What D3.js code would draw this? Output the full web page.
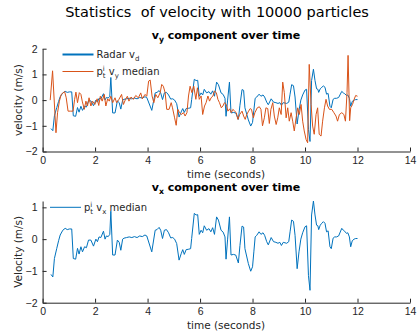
<!DOCTYPE html>
<html>
<head>
<meta charset="utf-8">
<script src="https://cdn.jsdelivr.net/npm/d3@7"></script>
<style>
  body { margin: 0; background: #fff; }
  svg { display: block; font-family: "DejaVu Sans", sans-serif; }
  .axis path, .axis line { stroke: #262626; }
  .axis text { fill: #262626; font-size: 10.5px; }
</style>
</head>
<body>
<div id="container"></div>
<script>
// radar velocity (also shown as the v_x median in the lower panel)
var radarT = [0.32,0.39,0.45,0.54,0.61,0.67,0.77,0.86,0.94,1.02,1.11,1.17,1.26,1.33,1.39,1.46,1.52,1.6,1.67,1.75,
  1.84,1.94,2.03,2.09,2.15,2.22,2.32,2.38,2.43,2.5,2.56,2.6,2.67,2.76,2.85,2.92,2.98,3.05,3.1,3.2,
  3.3,3.4,3.5,3.6,3.7,3.8,3.9,3.97,4.16,4.29,4.36,4.44,4.5,4.57,4.64,4.72,4.8,4.88,4.96,5.03,
  5.11,5.2,5.28,5.34,5.4,5.47,5.55,5.64,5.68,5.78,5.85,5.91,5.97,6.04,6.1,6.16,6.25,6.34,6.41,6.48,
  6.55,6.63,6.7,6.8,6.88,6.95,6.99,7.05,7.12,7.18,7.27,7.36,7.46,7.52,7.6,7.66,7.71,7.84,7.93,8.0,
  8.05,8.1,8.16,8.25,8.32,8.4,8.46,8.54,8.6,8.71,8.8,8.89,8.97,9.04,9.1,9.17,9.3,9.38,9.43,9.49,
  9.56,9.62,9.7,9.77,9.84,9.91,10.0,10.06,10.13,10.19,10.25,10.32,10.38,10.44,10.49,10.52,10.58,10.64,10.7,10.76,
  10.82,10.88,10.95,11.0,11.07,11.13,11.2,11.28,11.4,11.46,11.51,11.58,11.63,11.69,11.74,11.8,11.87,11.93,12.0];
var radarV = [-1.11,-1.19,-0.61,-0.29,-0.05,0.13,0.28,0.34,0.3,0.32,0.32,-0.61,-0.63,-0.29,-0.47,-0.24,-0.4,-0.24,-0.27,-0.03,
  -0.03,-0.22,0.0,-0.08,0.07,0.05,0.25,0.0,0.1,0.08,0.15,0.88,-0.5,-0.5,-0.03,-0.1,-0.35,0.0,0.03,0.05,
  0.07,0.05,0.08,0.05,0.1,0.08,0.13,0.1,-0.4,0.28,0.3,0.37,0.28,0.02,0.28,0.3,0.2,0.04,0.05,0.0,
  -0.14,-0.66,-0.46,-0.33,-0.48,-0.33,-0.32,-0.3,0.02,0.81,0.76,0.77,0.15,0.28,0.2,0.42,0.28,0.33,0.23,0.36,
  0.15,0.7,0.6,0.28,0.22,0.07,-0.63,0.0,0.7,-0.5,-0.48,-0.5,-0.75,-0.2,0.41,0.38,-0.3,-0.77,-1.01,-0.87,
  -0.4,0.07,0.12,0.23,0.15,0.2,0.12,-0.08,-0.18,0.05,-0.08,-0.1,-0.13,-0.1,-0.2,-0.1,-0.13,-0.08,0.23,0.6,
  0.56,0.12,-0.93,-0.4,0.0,0.2,0.39,0.42,-1.14,-1.61,0.76,1.2,0.76,0.44,0.42,0.3,0.44,0.5,0.55,0.5,
  0.23,0.26,-0.24,-0.3,0.03,0.07,0.07,0.1,0.34,0.28,0.25,0.18,0.2,0.07,-0.24,-0.05,0.0,0.02,0.02];

// particle median v_y
var medT = [0.29,0.38,0.51,0.57,0.64,0.71,0.78,0.84,0.9,0.97,1.06,1.16,1.22,1.27,1.33,1.4,1.46,1.51,1.59,1.65,
  1.71,1.77,1.84,1.9,1.99,2.08,2.14,2.2,2.27,2.35,2.41,2.48,2.54,2.6,2.67,2.76,2.82,2.91,3.01,3.08,
  3.16,3.23,3.29,3.37,3.46,3.55,3.65,3.74,3.8,3.9,3.97,4.04,4.1,4.17,4.24,4.31,4.39,4.48,4.54,4.6,
  4.67,4.73,4.82,4.9,4.95,5.03,5.09,5.15,5.22,5.28,5.37,5.43,5.5,5.56,5.62,5.69,5.76,5.84,5.9,5.97,
  6.04,6.1,6.17,6.23,6.3,6.36,6.42,6.49,6.55,6.62,6.68,6.74,6.81,6.87,6.93,7.0,7.06,7.13,7.19,7.25,
  7.32,7.38,7.44,7.51,7.6,7.66,7.72,7.78,7.85,7.91,7.96,8.03,8.09,8.18,8.26,8.32,8.38,8.45,8.51,8.58,
  8.64,8.7,8.77,8.83,8.9,8.96,9.02,9.09,9.15,9.21,9.28,9.34,9.4,9.47,9.53,9.59,9.66,9.72,9.78,9.85,
  9.91,9.97,10.04,10.1,10.16,10.23,10.29,10.35,10.42,10.48,10.54,10.61,10.67,10.74,10.8,10.86,10.93,11.02,11.1,11.18,
  11.24,11.31,11.4,11.48,11.54,11.6,11.64,11.7,11.74,11.81,11.87,11.93,12.0];
var medV = [0.0,1.14,-1.27,-0.49,-0.04,0.22,0.28,0.33,0.09,-0.43,-0.43,-0.43,0.03,0.31,-0.1,0.29,0.22,-0.04,-0.36,-0.04,
  -0.23,0.09,-0.23,-0.04,-0.17,0.05,-0.21,0.15,-0.04,0.22,-0.23,0.05,-0.04,0.15,-0.1,0.09,-0.1,0.03,0.22,-0.17,
  0.03,0.15,-0.04,0.12,0.03,0.18,0.09,0.28,0.05,0.22,0.15,0.74,0.78,0.16,-0.1,0.22,0.09,0.29,0.61,0.54,
  0.29,-0.36,-0.36,-0.1,-0.3,-0.69,-0.98,-0.36,-0.49,-0.56,-0.49,-0.62,-0.49,0.16,0.54,0.29,0.54,0.03,0.48,0.03,
  0.16,-0.56,-0.23,-0.1,0.16,-0.04,0.09,0.16,0.35,0.29,0.03,-0.1,-0.3,-0.23,-0.1,-0.17,-0.43,-0.34,-0.49,-0.36,
  -0.43,-0.49,-0.75,-0.56,-0.43,-0.62,-0.75,-0.56,-0.43,-0.33,-0.36,-0.69,-0.49,-0.3,-0.26,-0.36,-1.0,-0.69,-0.3,-0.33,
  -0.91,-0.36,-0.1,-0.62,-0.95,-0.69,-0.3,-0.56,0.7,0.29,-0.69,-0.3,-0.82,-0.49,-0.82,-1.2,-0.69,-0.3,-0.56,-0.17,
  -0.82,-1.2,-1.53,-1.66,1.39,-0.17,-1.01,-1.33,-0.56,-0.3,-1.33,-1.4,-0.82,-0.3,0.03,-0.23,-0.36,-0.36,-0.49,-0.62,
  -0.82,-0.56,-0.49,-0.56,-0.82,0.29,1.74,-0.8,-0.3,-0.17,0.03,0.18,0.15];

var xTicks = [0, 2, 4, 6, 8, 10, 12, 14];
var yTicksTop = [-2, -1, 0, 1, 2];
var yTicksBottom = [-2, -1, 0, 1];

var blue = "#0072BD", orange = "#D95319";

var radar = radarT.map(function(t, i) { return { t: t, v: radarV[i] }; });
var med = medT.map(function(t, i) { return { t: t, v: medV[i] }; });

var svg = d3.select("#container").append("svg")
  .attr("width", 417).attr("height", 336);

svg.append("text")
  .attr("x", 217).attr("y", 17)
  .attr("text-anchor", "middle")
  .style("font-size", "14.5px").style("white-space", "pre")
  .attr("fill", "#000")
  .text("Statistics  of velocity with 10000 particles");

// small helper: writes pieces of text one after another, with sub/superscripts
function richText(g, x, y, parts, size, weight) {
  var cx = x;
  parts.forEach(function(p) {
    if (p.stack) {
      var a = g.append("text").attr("x", cx).attr("y", y - size * 0.42)
        .style("font-size", size * 0.7 + "px").style("font-weight", weight).text(p.sup);
      var b = g.append("text").attr("x", cx).attr("y", y + size * 0.28)
        .style("font-size", size * 0.7 + "px").style("font-weight", weight).text(p.sub);
      cx += Math.max(a.node().getComputedTextLength(), b.node().getComputedTextLength());
      return;
    }
    var dy = p.sub ? size * 0.3 : 0;
    var fs = p.sub ? size * 0.7 : size;
    var t = g.append("text").attr("x", cx).attr("y", y + dy)
      .style("font-size", fs + "px").style("font-weight", weight)
      .style("white-space", "pre").text(p.sub || p.txt);
    cx += t.node().getComputedTextLength();
  });
  return cx - x;
}

function centeredRich(x, y, parts, size, weight) {
  var g = svg.append("g").attr("fill", "#000");
  var w = richText(g, 0, 0, parts, size, weight);
  g.attr("transform", "translate(" + (x - w / 2) + "," + y + ")");
}

function panel(opts) {
  var x = d3.scaleLinear().domain([0, 14]).range([42.6, 410]);
  var y = d3.scaleLinear().domain(opts.yDomain).range(opts.yRange);

  svg.append("g").attr("class", "axis")
    .attr("transform", "translate(0," + opts.yRange[0] + ")")
    .call(d3.axisBottom(x).tickValues(xTicks).tickFormat(d3.format("d"))
      .tickSizeInner(-4).tickSizeOuter(0).tickPadding(5));
  svg.append("g").attr("class", "axis")
    .attr("transform", "translate(42.6,0)")
    .call(d3.axisLeft(y).tickValues(opts.yTicks).tickFormat(d3.format("d"))
      .tickSizeInner(-4).tickSizeOuter(0).tickPadding(5));

  opts.series.forEach(function(s) {
    svg.append("path").datum(s.data)
      .attr("fill", "none").attr("stroke", s.color).attr("stroke-width", 1)
      .attr("stroke-linejoin", "round")
      .attr("d", d3.line().x(function(d) { return x(d.t); }).y(function(d) { return y(d.v); }));
  });

  svg.append("text")
    .attr("x", 226).attr("y", opts.yRange[0] + 26)
    .attr("text-anchor", "middle").attr("fill", "#262626")
    .style("font-size", "10.5px").text("time (seconds)");

  svg.append("text")
    .attr("transform", "translate(22," + (opts.yRange[0] + opts.yRange[1]) / 2 + ") rotate(-90)")
    .attr("text-anchor", "middle").attr("fill", "#262626")
    .style("font-size", "10.5px").text(opts.yLabel);

  centeredRich(226, opts.yRange[1] - 10, opts.title, 11, "bold");

  opts.legend.forEach(function(l) {
    svg.append("line")
      .attr("x1", l.x).attr("x2", l.x + 31).attr("y1", l.y).attr("y2", l.y)
      .attr("stroke", l.color).attr("stroke-width", l.width);
    var g = svg.append("g").attr("fill", "#262626")
      .attr("transform", "translate(" + (l.x + 34) + "," + (l.y + 3.5) + ")");
    richText(g, 0, 0, l.parts, 10, "normal");
  });
}

panel({
  yDomain: [-2, 2], yRange: [151.5, 48.7], yTicks: yTicksTop,
  yLabel: "velocity (m/s)",
  title: [{ txt: "v" }, { sub: "y" }, { txt: " component over time" }],
  series: [{ data: radar, color: blue }, { data: med, color: orange }],
  legend: [
    { x: 62.5, y: 54.5, color: blue, width: 2, parts: [{ txt: "Radar v" }, { sub: "d" }] },
    { x: 62.5, y: 71.5, color: orange, width: 1,
      parts: [{ txt: "p" }, { stack: true, sup: "i", sub: "t" }, { txt: " v" }, { sub: "y" }, { txt: " median" }] }
  ]
});

panel({
  yDomain: [-2, 1.2], yRange: [302.7, 201], yTicks: yTicksBottom,
  yLabel: "Velocity (m/s)",
  title: [{ txt: "v" }, { sub: "x" }, { txt: " component over time" }],
  series: [{ data: radar, color: blue }],
  legend: [
    { x: 50, y: 207.3, color: blue, width: 1,
      parts: [{ txt: "p" }, { stack: true, sup: "i", sub: "t" }, { txt: " v" }, { sub: "x" }, { txt: " median" }] }
  ]
});
</script>
</body>
</html>
